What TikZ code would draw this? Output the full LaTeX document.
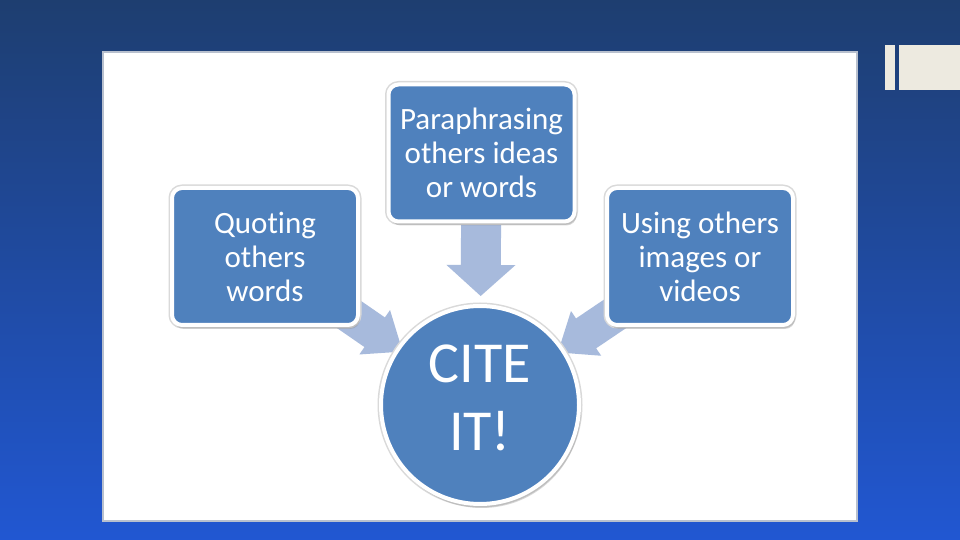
\documentclass[tikz,border=0pt]{standalone}
\usepackage{fontspec}
\setmainfont{Carlito}[Ligatures=NoCommon]
\usepackage{xcolor}
\usepackage{tikz}
\usetikzlibrary{calc,shadows,backgrounds,arrows.meta}

\definecolor{bgTop}{RGB}{30,62,112}
\definecolor{bgMid}{RGB}{31,71,136}
\definecolor{bgBottom}{RGB}{33,87,210}
\definecolor{boxBlue}{RGB}{79,129,189}
\definecolor{arrowBlue}{RGB}{167,186,220}
\definecolor{panelEdge}{RGB}{184,192,206}
\definecolor{tabCream}{RGB}{237,234,224}

\pgfdeclarelayer{back}
\pgfdeclarelayer{mid}
\pgfsetlayers{back,mid,main}

\begin{document}
\begin{tikzpicture}[x=1pt,y=1pt, line join=round,
		card/.style={rectangle, rounded corners=10pt, fill=boxBlue, draw=white, line width=4pt,
			minimum width=186pt, minimum height=137pt, inner sep=0pt, text=white, align=center,
			font=\fontsize{31}{34}\selectfont,
			preaction={draw=black!15, line width=7pt},
			drop shadow={opacity=0.3, shadow xshift=2pt, shadow yshift=-4pt}},
		bubble/.style={circle, fill=boxBlue, draw=white, line width=4pt, minimum size=198pt,
			inner sep=0pt, text=white, align=center, font=\fontsize{58}{66}\selectfont,
			text depth=14pt,
			preaction={draw=black!15, line width=7pt},
			drop shadow={opacity=0.3, shadow xshift=2pt, shadow yshift=-4pt}},
		flowArrow/.style={fill=arrowBlue, draw=none}]
	
	\useasboundingbox (0,0) rectangle (960,540);
	
	% ---- slide background + white panel
	\begin{pgfonlayer}{back}
		\shade[top color=bgTop, middle color=bgMid, bottom color=bgBottom] (0,0) rectangle (960,540);
		\draw[fill=white, draw=panelEdge, line width=1.5pt] (103,19) rectangle (857,488);
		% corner tab (top right)
		\fill[tabCream] (885,450) rectangle (895,495);
		\fill[tabCream] (899,450) rectangle (960,495);
	\end{pgfonlayer}
	
	% ---- centre + three sources
	\node[bubble] (cite) at (480,135) {CITE\\[2pt]IT!};
	\node[card] (quote)  at (265,283.5) {Quoting\\others\\words};
	\node[card] (para)   at (481.5,387) {Paraphrasing\\others ideas\\or words};
	\node[card] (images) at (700,283.5) {Using others\\images or\\videos};
	
	% ---- block arrows into the circle (source / tip dist / shaft half / head half / head length)
	\begin{pgfonlayer}{mid}
		\foreach \src/\tipD/\sw/\hw/\hl in {para/109/20/34.5/31, quote/94/18/27/34, images/94/18/27/34}{
			\coordinate (tip-\src) at ($(cite.center)!\tipD pt!(\src.center)$);
			\coordinate (back-\src) at ($(tip-\src)!\hl pt!(\src.center)$);
			\path[flowArrow] (tip-\src)
				-- ($(back-\src)!\hw pt!90:(\src.center)$)
				-- ($(back-\src)!\sw pt!90:(\src.center)$)
				-- ($(\src.center)!\sw pt!-90:(back-\src)$)
				-- ($(\src.center)!\sw pt!90:(back-\src)$)
				-- ($(back-\src)!\sw pt!-90:(\src.center)$)
				-- ($(back-\src)!\hw pt!-90:(\src.center)$)
				-- cycle;
		}
	\end{pgfonlayer}
	
\end{tikzpicture}
\end{document}
